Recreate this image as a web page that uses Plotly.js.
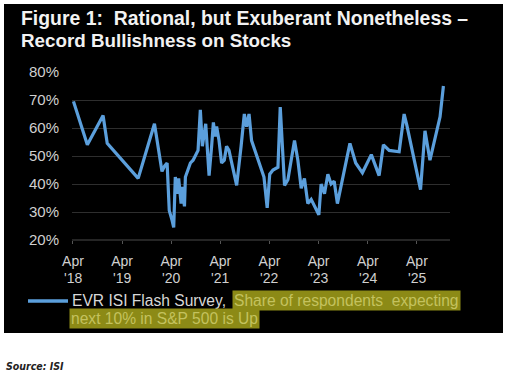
<!DOCTYPE html>
<html>
<head>
<meta charset="utf-8">
<script src="https://cdn.plot.ly/plotly-3.0.1.min.js"></script>
<style>
  html, body { margin: 0; padding: 0; background: #ffffff; }
  #bg { position: absolute; left: 4px; top: 4px; width: 499px; height: 329px; background: #000000; }
  #chart { position: absolute; left: 0; top: 0; width: 507px; height: 378px; }
</style>
</head>
<body>
<div id="bg"></div>
<div id="chart"></div>
<script>
const dates = [
  '2018-04-05','2018-07-17','2018-11-11','2018-12-12','2019-07-30','2019-11-28',
  '2020-01-23','2020-02-12','2020-03-01','2020-03-17','2020-04-07','2020-04-19',
  '2020-05-01','2020-05-14','2020-05-26','2020-06-13','2020-06-20','2020-07-08',
  '2020-07-15','2020-08-01','2020-08-21','2020-09-10','2020-09-27','2020-10-17',
  '2020-11-03','2020-11-18','2020-12-13','2021-01-07','2021-01-26','2021-02-08',
  '2021-02-21','2021-03-04','2021-03-22','2021-04-10','2021-04-30','2021-05-17',
  '2021-06-04','2021-06-19','2021-07-31','2021-09-02','2021-09-26','2021-10-13',
  '2021-10-31','2021-11-19','2021-12-14','2022-01-08','2022-02-01','2022-02-19',
  '2022-03-15','2022-04-03','2022-04-27','2022-06-03','2022-06-20','2022-07-22',
  '2022-08-16','2022-10-04','2022-10-29','2022-11-23','2022-12-17','2023-01-11',
  '2023-02-05','2023-03-01','2023-04-03','2023-04-20','2023-05-15','2023-06-09',
  '2023-07-03','2023-07-26','2023-08-19','2023-11-20','2024-01-02','2024-02-21',
  '2024-04-27','2024-06-24','2024-07-26','2024-09-07','2024-11-20','2024-12-27',
  '2025-01-16','2025-04-28','2025-05-31','2025-07-07','2025-08-31','2025-09-20',
  '2025-10-15'
];
const bullishShare = [
  69.5, 54, 64.5, 54.5, 42, 61.5,
  44.5, 46.5, 47.5, 30.5, 27, 24.5,
  42.5, 36.5, 42, 33, 39, 32,
  42.5, 45, 47.5, 48.5, 50, 52,
  66.5, 53.5, 61.5, 43, 53.5, 62,
  57, 60.5, 55.5, 47.5, 48.5, 53.5,
  52, 48.5, 39.5, 53.5, 65, 60.5,
  65, 55.5, 52, 48.5, 45, 42.5,
  31.5, 43.5, 45, 46, 67.5, 39.5,
  41.5, 55.5, 48.5, 38.5, 42, 33,
  34.5, 32, 29, 40, 36.5, 43.5,
  40, 41, 33, 54.5, 47.5, 44,
  50.5, 43, 54, 52, 51.5, 65,
  61, 38, 59, 48.5, 60.5, 64,
  75
];
const xTickVals = ['2018-04-01','2019-04-01','2020-04-01','2021-04-01','2022-04-01','2023-04-01','2024-04-01','2025-04-01'];
const xTickMonth = ['Apr','Apr','Apr','Apr','Apr','Apr','Apr','Apr'];
const xTickYear = ["'18","'19","'20","'21","'22","'23","'24","'25"];
const yTickVals = [20, 30, 40, 50, 60, 70, 80];
const yTickText = ['20%','30%','40%','50%','60%','70%','80%'];

const seriesName = 'EVR ISI Flash Survey, ';
const highlight1 = 'Share of respondents&nbsp; expecting';
const highlight2 = 'next 10% in S&amp;P 500 is Up';
const titleLine1 = 'Figure 1:&nbsp;&nbsp;Rational, but Exuberant Nonetheless&nbsp;–';
const titleLine2 = 'Record Bullishness on Stocks';
const sourceText = 'Source: ISI';

const W = 507, H = 378;
const M = { l: 72, r: 57, t: 71.7, b: 138 };
const pw = W - M.l - M.r, ph = H - M.t - M.b;
const px = x => (x - M.l) / pw;
const py = y => (H - M.b - y) / ph;

const lineColor = '#5b9fdc';
const font = 'Liberation Sans, Arial, sans-serif';

const trace = {
  x: dates, y: bullishShare, type: 'scatter', mode: 'lines',
  line: { color: lineColor, width: 3.2 },
  name: seriesName, showlegend: false, hoverinfo: 'skip'
};

const yearAnnotations = xTickVals.map((v, i) => ({
  text: xTickYear[i], xref: 'x', yref: 'paper', x: v, y: py(278.5),
  xanchor: 'center', yanchor: 'middle', showarrow: false, borderpad: 0,
  font: { size: 14, color: '#d0d0d0', family: font }
}));

const layout = {
  width: W, height: H,
  margin: M,
  paper_bgcolor: 'rgba(0,0,0,0)',
  plot_bgcolor: 'rgba(0,0,0,0)',
  showlegend: false,
  font: { family: font, color: '#d4d4d4' },
  xaxis: {
    type: 'date',
    range: ['2018-03-25', '2025-12-03'],
    tickmode: 'array', tickvals: xTickVals, ticktext: xTickMonth,
    tickfont: { size: 14, color: '#d0d0d0', family: font },
    showgrid: false, zeroline: false,
    showline: false,
    ticks: 'outside', ticklen: 3, tickcolor: '#555555', tickwidth: 1,
    ticklabelstandoff: 5
  },
  yaxis: {
    range: [20, 80],
    tickmode: 'array', tickvals: yTickVals, ticktext: yTickText,
    tickfont: { size: 15, color: '#d0d0d0', family: font },
    showgrid: true, gridcolor: '#2e2e2e', gridwidth: 1,
    zeroline: false, showline: false, ticks: '',
    ticklabelstandoff: 12
  },
  shapes: [
    { type: 'line', xref: 'paper', yref: 'paper', x0: 0, x1: 1, y0: 0, y1: 0,
      line: { color: '#4a4a4a', width: 1 }, layer: 'below' },
    { type: 'line', xref: 'paper', yref: 'paper', x0: px(28), x1: px(68), y0: py(301), y1: py(301),
      line: { color: lineColor, width: 3.5 } }
  ],
  annotations: [
    { text: '<b>' + titleLine1 + '</b>', xref: 'paper', yref: 'paper', x: px(19), y: py(17.5),
      xanchor: 'left', yanchor: 'middle', showarrow: false,
      font: { size: 19.4, color: '#f2f2f2', family: font } },
    { text: '<b>' + titleLine2 + '</b>', xref: 'paper', yref: 'paper', x: px(19), y: py(40.5),
      xanchor: 'left', yanchor: 'middle', showarrow: false,
      font: { size: 18.8, color: '#f2f2f2', family: font } },
    { text: seriesName, xref: 'paper', yref: 'paper', x: px(70), y: py(301),
      xanchor: 'left', yanchor: 'middle', showarrow: false,
      font: { size: 15.6, color: '#d8d8d8', family: font } },
    { text: highlight1, xref: 'paper', yref: 'paper', x: px(232), y: py(301),
      xanchor: 'left', yanchor: 'middle', showarrow: false,
      bgcolor: '#8c8a16', borderpad: 1,
      font: { size: 15.6, color: '#c4c25e', family: font } },
    { text: highlight2, xref: 'paper', yref: 'paper', x: px(69), y: py(319),
      xanchor: 'left', yanchor: 'middle', showarrow: false,
      bgcolor: '#8c8a16', borderpad: 1,
      font: { size: 15.6, color: '#c4c25e', family: font } },
    { text: '<b><i>' + sourceText + '</i></b>', xref: 'paper', yref: 'paper', x: px(4), y: py(366),
      xanchor: 'left', yanchor: 'middle', showarrow: false,
      font: { size: 10.5, color: '#222222', family: 'Liberation Sans Narrow, DejaVu Sans Condensed, Arial Narrow, sans-serif' } }
  ].concat(yearAnnotations)
};

Plotly.newPlot('chart', [trace], layout, { staticPlot: true, displayModeBar: false });
</script>
</body>
</html>
